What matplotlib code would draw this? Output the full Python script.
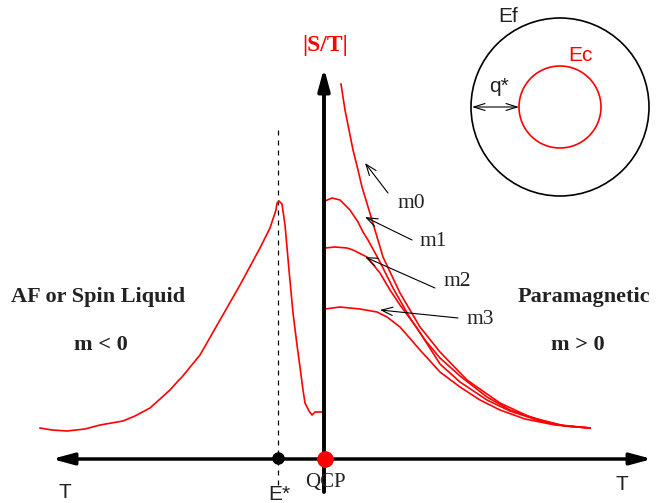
import numpy as np
import matplotlib.pyplot as plt
from matplotlib.patches import Circle

# schematic drawn in picture coordinates (pixels, y downwards)
left_x = [40, 52, 67, 85, 100, 123, 135, 150, 170, 178, 182, 200, 220, 240, 260, 270, 276, 277, 279, 282, 285, 289, 293, 297, 300, 303, 305, 309, 312, 315, 325]
left_y = [428, 430, 431, 429, 425, 421, 416, 408, 390, 381, 377, 355, 320, 285, 248, 228, 210, 203, 201, 204, 225, 270, 313, 345, 367, 390, 403, 411, 415, 412, 412]

m0_x = [341, 345, 349, 353, 358, 362, 372, 383, 400, 420, 440, 467, 500, 530, 560, 590]
m0_y = [84, 110, 130, 150, 170, 187, 220, 257, 293, 327, 352, 380, 403, 417, 425, 428]
m1_x = [325, 332, 340, 350, 358, 363, 368, 380, 393, 410, 425, 440, 460, 487, 510, 540, 565, 590]
m1_y = [201, 198, 200, 210, 222, 232, 240, 262, 288, 318, 340, 358, 376, 397, 410, 420, 426, 428]
m2_x = [325, 335, 347, 353, 367, 380, 390, 400, 417, 440, 460, 487, 510, 540, 565, 590]
m2_y = [248, 247, 248, 250, 257, 273, 290, 305, 328, 364, 382, 400, 411, 421, 426, 428]
m3_x = [325, 340, 360, 377, 387, 400, 407, 420, 440, 460, 480, 500, 525, 555, 590]
m3_y = [309, 307, 309, 312, 317, 327, 335, 350, 372, 387, 400, 410, 419, 425, 428]

labels = ['m0', 'm1', 'm2', 'm3']
label_xy = [(411, 203), (433, 242), (457, 281), (480, 320)]
tail_xy = [(388, 193), (412, 240), (435, 288), (458, 318)]
tip_xy = [(365, 163), (365, 217), (365, 257), (380, 310)]

fig = plt.figure(figsize=(6.72, 5.03), dpi=100)
ax = fig.add_axes([0, 0, 1, 1])
ax.set_xlim(0, 672)
ax.set_ylim(503, 0)
ax.axis('off')

red = '#ff0000'
ink = '#222222'
serif = 'Liberation Serif'
sans = 'Liberation Sans'

# axes with arrows
head = '-|>,head_length=1.3,head_width=0.35'
ax.annotate('', xy=(52, 459), xytext=(324, 459),
            arrowprops=dict(arrowstyle=head, lw=2.5, color='k', shrinkA=0, shrinkB=0))
ax.annotate('', xy=(652, 459), xytext=(324, 459),
            arrowprops=dict(arrowstyle=head, lw=2.5, color='k', shrinkA=0, shrinkB=0))
ax.annotate('', xy=(324, 68), xytext=(324, 492),
            arrowprops=dict(arrowstyle=head, lw=2.8, color='k', shrinkA=0, shrinkB=0))

ax.plot([278, 278], [130, 486], ls=(0, (4, 4)), color='k', lw=0.9)

ax.plot(left_x, left_y, color=red, lw=1.2)
for xs, ys in [(m0_x, m0_y), (m1_x, m1_y), (m2_x, m2_y), (m3_x, m3_y)]:
    ax.plot(xs, ys, color=red, lw=1.2)

for lab, lxy, txy, pxy in zip(labels, label_xy, tail_xy, tip_xy):
    ax.text(lxy[0], lxy[1], lab, family=serif, fontsize=15.5, ha='center', va='center', color=ink)
    ax.annotate('', xy=pxy, xytext=txy,
                arrowprops=dict(arrowstyle='->,head_length=0.8,head_width=0.3', lw=0.8, color='k', shrinkA=0, shrinkB=0))

ax.plot(278, 458, 'o', color='k', ms=8, zorder=5)
ax.plot(325, 459, 'o', color=red, ms=11, zorder=6)

ax.text(325, 45, '|S/T|', family=serif, fontweight='bold', fontsize=17, color=red, ha='center', va='center')
ax.text(65, 493, 'T', family=sans, fontsize=15, ha='center', va='center', color=ink)
ax.text(622, 484, 'T', family=sans, fontsize=15, ha='center', va='center', color=ink)
ax.text(279, 494, 'E*', family=sans, fontsize=15, ha='center', va='center', color=ink)
ax.text(325, 482, 'QCP', family=serif, fontsize=15, ha='center', va='center', color=ink)

ax.text(98, 297, 'AF or Spin Liquid', family=serif, fontweight='bold', fontsize=16, ha='center', va='center', color=ink)
ax.text(101, 345, 'm < 0', family=serif, fontweight='bold', fontsize=16, ha='center', va='center', color=ink)
ax.text(584, 297, 'Paramagnetic', family=serif, fontweight='bold', fontsize=16, ha='center', va='center', color=ink)
ax.text(578, 345, 'm > 0', family=serif, fontweight='bold', fontsize=16, ha='center', va='center', color=ink)

# Fermi surfaces inset
ax.add_patch(Circle((560, 107), 89, fill=False, ec='k', lw=1.2))
ax.add_patch(Circle((560, 107), 41, fill=False, ec=red, lw=1.2))
ax.annotate('', xy=(472, 107), xytext=(519, 107),
            arrowprops=dict(arrowstyle='<->,head_length=0.8,head_width=0.25', lw=0.8, color='k', shrinkA=0, shrinkB=0))
ax.text(508, 16, 'Ef', family=sans, fontsize=15, ha='center', va='center', color=ink)
ax.text(580, 55, 'Ec', family=sans, fontsize=15, ha='center', va='center', color=red)
ax.text(499, 86, 'q*', family=sans, fontsize=15, ha='center', va='center', color=ink)

plt.savefig('out.png', dpi=100)
